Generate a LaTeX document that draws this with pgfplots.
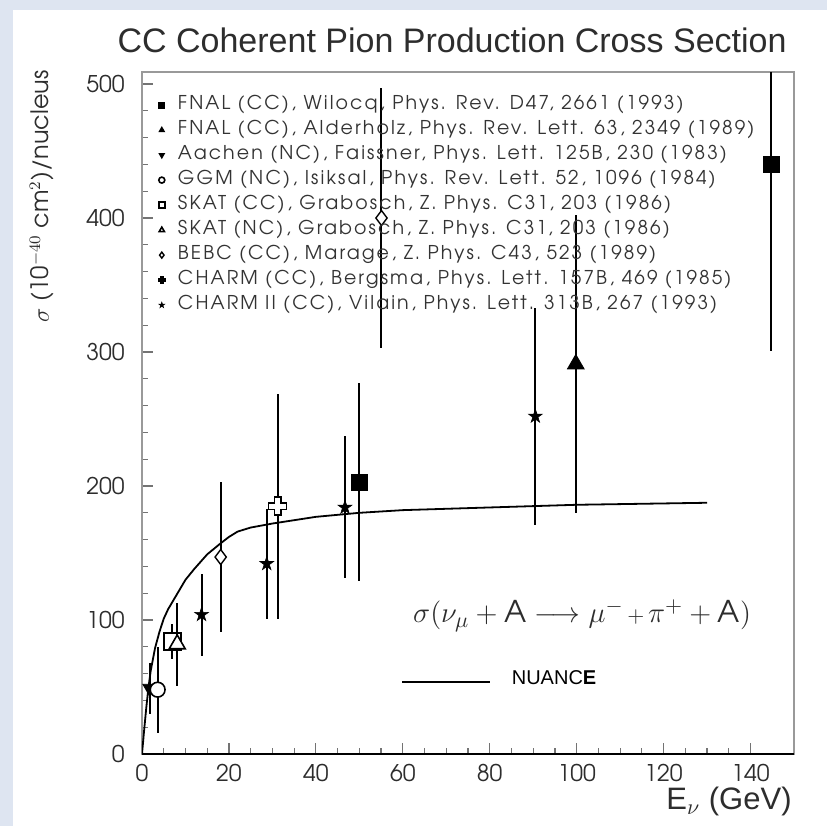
\documentclass[border=0pt]{standalone}
\usepackage{pgfplots}
\pgfplotsset{compat=1.18}
\usepackage{fontspec}
\setmainfont{texgyreadventor}[Extension=.otf, UprightFont=*-regular, BoldFont=*-bold, ItalicFont=*-italic, BoldItalicFont=*-bolditalic]
\newfontfamily\legfont{texgyreadventor}[Extension=.otf, UprightFont=*-regular, LetterSpace=11]
\newfontfamily\helv{Liberation Sans}
\definecolor{bgblue}{RGB}{222,229,241}
\definecolor{txt}{RGB}{45,45,45}

% open cross marker (white inside)
\pgfdeclareplotmark{opencross}{%
  \pgfpathmoveto{\pgfqpoint{-0.36\pgfplotmarksize}{\pgfplotmarksize}}%
  \pgfpathlineto{\pgfqpoint{0.36\pgfplotmarksize}{\pgfplotmarksize}}%
  \pgfpathlineto{\pgfqpoint{0.36\pgfplotmarksize}{0.36\pgfplotmarksize}}%
  \pgfpathlineto{\pgfqpoint{\pgfplotmarksize}{0.36\pgfplotmarksize}}%
  \pgfpathlineto{\pgfqpoint{\pgfplotmarksize}{-0.36\pgfplotmarksize}}%
  \pgfpathlineto{\pgfqpoint{0.36\pgfplotmarksize}{-0.36\pgfplotmarksize}}%
  \pgfpathlineto{\pgfqpoint{0.36\pgfplotmarksize}{-\pgfplotmarksize}}%
  \pgfpathlineto{\pgfqpoint{-0.36\pgfplotmarksize}{-\pgfplotmarksize}}%
  \pgfpathlineto{\pgfqpoint{-0.36\pgfplotmarksize}{-0.36\pgfplotmarksize}}%
  \pgfpathlineto{\pgfqpoint{-\pgfplotmarksize}{-0.36\pgfplotmarksize}}%
  \pgfpathlineto{\pgfqpoint{-\pgfplotmarksize}{0.36\pgfplotmarksize}}%
  \pgfpathlineto{\pgfqpoint{-0.36\pgfplotmarksize}{0.36\pgfplotmarksize}}%
  \pgfpathclose
  \pgfusepathqfillstroke
}
% filled five-pointed star
\pgfdeclareplotmark{fstar}{%
  \pgfpathmoveto{\pgfqpoint{0pt}{\pgfplotmarksize}}%
  \pgfpathlineto{\pgfqpoint{-0.2245\pgfplotmarksize}{0.309\pgfplotmarksize}}%
  \pgfpathlineto{\pgfqpoint{-0.9511\pgfplotmarksize}{0.309\pgfplotmarksize}}%
  \pgfpathlineto{\pgfqpoint{-0.3633\pgfplotmarksize}{-0.118\pgfplotmarksize}}%
  \pgfpathlineto{\pgfqpoint{-0.5878\pgfplotmarksize}{-0.809\pgfplotmarksize}}%
  \pgfpathlineto{\pgfqpoint{0pt}{-0.382\pgfplotmarksize}}%
  \pgfpathlineto{\pgfqpoint{0.5878\pgfplotmarksize}{-0.809\pgfplotmarksize}}%
  \pgfpathlineto{\pgfqpoint{0.3633\pgfplotmarksize}{-0.118\pgfplotmarksize}}%
  \pgfpathlineto{\pgfqpoint{0.9511\pgfplotmarksize}{0.309\pgfplotmarksize}}%
  \pgfpathlineto{\pgfqpoint{0.2245\pgfplotmarksize}{0.309\pgfplotmarksize}}%
  \pgfpathclose
  \pgfusepathqfillstroke
}

\begin{document}
\begin{tikzpicture}
\path[use as bounding box] (-71pt,-36pt) rectangle (342.5pt,377pt);
\fill[bgblue] (-71pt,-36pt) rectangle (342.5pt,377pt);
\fill[white] (-64.5pt,-36pt) rectangle (342.5pt,372pt);
\begin{axis}[
  at={(0,0)}, anchor=south west,
  width=326pt, height=341pt, scale only axis,
  xmin=0, xmax=150, ymin=0, ymax=509,
  xtick={0,20,...,140}, ytick={0,100,...,500},
  minor x tick num=3, minor y tick num=4,
  xtick pos=lower, ytick pos=left,
  tick align=inside,
  major tick length=5.5pt, minor tick length=3pt,
  every tick/.style={black!55, line width=0.6pt},
  axis line style={black!40, line width=0.7pt},
  /pgf/number format/assume math mode=true,
  tick label style={font=\fontsize{11.5}{13}\selectfont, text=txt, inner sep=0pt},
  xticklabel style={yshift=-5pt},
  yticklabel style={xshift=-8.5pt},
  clip mode=individual,
  title={CC Coherent Pion Production Cross Section},
  title style={at={(rel axis cs:1,1)}, anchor=base east, xshift=-3.5pt, yshift=4pt,
    inner sep=0pt, font=\helv\fontsize{17}{20}\selectfont, text=txt},
  xlabel={E$_{\nu}$ (GeV)},
  xlabel style={at={(rel axis cs:1,0)}, anchor=base east, xshift=-1pt, yshift=-28pt,
    inner sep=0pt, font=\helv\fontsize{15.5}{18}\selectfont, text=txt},
  ylabel={$\sigma$ (10$^{-40}$ cm$^{2}$)/nucleus},
  ylabel style={at={(axis description cs:-0.1534,1.003)}, anchor=east,
    inner sep=0pt, font=\fontsize{12}{14}\selectfont, text=txt},
  error bars/y dir=both, error bars/y explicit, error bars/error mark=none,
  error bars/error bar style={line width=1pt, black},
  legend style={at={(0,1)}, anchor=north west, xshift=8.4pt, yshift=-12.3pt,
    draw=none, fill=none, inner sep=0pt, outer sep=0pt,
    row sep=4pt, font=\legfont\fontsize{9.5}{10}\selectfont, text=black!80,
    nodes={inner sep=0pt, text height=6.5pt, text depth=2pt},
    /tikz/every odd column/.style={column sep=6.6pt}},
  legend cell align=left,
  legend image post style={mark size=1.5pt, line width=0.5pt},
]
% NUANCE prediction
\addplot[black, line width=0.9pt, forget plot] coordinates {
 (0,0)(0.5,18)(1,35)(1.5,50)(2,62)(3,79)(4,91)(5,101)(6,108)(8,119)
 (10,130)(12,138)(15,149)(18,157)(20,162)(22,166)(25,169)(30,172)
 (35,174.5)(40,177)(50,180)(60,182)(80,184)(100,186)(130,187.5)};
\addplot[black, line width=0.9pt, forget plot] coordinates {(59.9,53.9)(80,53.9)};

\addplot[black, only marks, mark=square*, mark size=4pt] coordinates {
 (50,203) +- (0,74)
 (144.7,440) +- (0,139)};
\addlegendentry{FNAL (CC), Wilocq, Phys. Rev. D47, 2661 (1993)}
\addplot[black, only marks, mark=triangle*, mark size=4.8pt] coordinates {
 (99.8,291) +- (0,111)};
\addlegendentry{FNAL (CC), Alderholz, Phys. Rev. Lett. 63, 2349 (1989)}
\addplot[black, only marks, mark=triangle*, mark size=4pt, mark options={rotate=180}] coordinates {
 (1.8,49) +- (0,19)};
\addlegendentry{Aachen (NC), Faissner, Phys. Lett. 125B, 230 (1983)}
\addplot[black, only marks, mark=*, mark size=3.7pt, mark options={fill=white, line width=0.8pt}] coordinates {
 (3.6,48) +- (0,32)};
\addlegendentry{GGM (NC), Isiksal, Phys. Rev. Lett. 52, 1096 (1984)}
\addplot[black, only marks, mark=square*, mark size=4.2pt, mark options={fill=white, line width=0.8pt}] coordinates {
 (7.0,84) +- (0,13)};
\addlegendentry{SKAT (CC), Grabosch, Z. Phys. C31, 203 (1986)}
\addplot[black, only marks, mark=triangle*, mark size=4.6pt, mark options={fill=white, line width=0.8pt}] coordinates {
 (8.1,82) +- (0,31)};
\addlegendentry{SKAT (NC), Grabosch, Z. Phys. C31, 203 (1986)}
\addplot[black, only marks, mark=diamond*, mark size=3.75pt, mark options={fill=white, line width=0.7pt}] coordinates {
 (18.1,147) +- (0,56)
 (55.1,400) +- (0,97)};
\addlegendentry{BEBC (CC), Marage, Z. Phys. C43, 523 (1989)}
\addplot[black, only marks, mark=opencross, mark size=4.5pt, mark options={fill=white, line width=0.8pt}] coordinates {
 (31.2,185) +- (0,84)};
\addlegendentry{CHARM (CC), Bergsma, Phys. Lett. 157B, 469 (1985)}
\addplot[black, only marks, mark=fstar, mark size=3.6pt, mark options={fill=black, line width=0.3pt}] coordinates {
 (13.7,104) +- (0,30.5)
 (28.7,142) +- (0,41)
 (46.7,184) +- (0,53)
 (90.5,252) +- (0,81)};
\addlegendentry{CHARM II (CC), Vilain, Phys. Lett. 313B, 267 (1993)}

\node[anchor=base west, inner sep=0pt, text=txt, font=\fontsize{15}{18}\selectfont]
  at (axis cs:62.3,97.8)
  {$\sigma(\nu_{\mu} + \mathrm{A} \longrightarrow \mu^{-}{\scriptstyle\,+\,}\pi^{+} + \mathrm{A})$};
\node[anchor=base west, inner sep=0pt, text=black, font=\helv\fontsize{10}{12}\selectfont]
  at (axis cs:85,51.5) {NUANC\textbf{E}};
\end{axis}
\draw[black, line width=0.9pt] (0,0) -- (326pt,0);
\end{tikzpicture}
\end{document}
